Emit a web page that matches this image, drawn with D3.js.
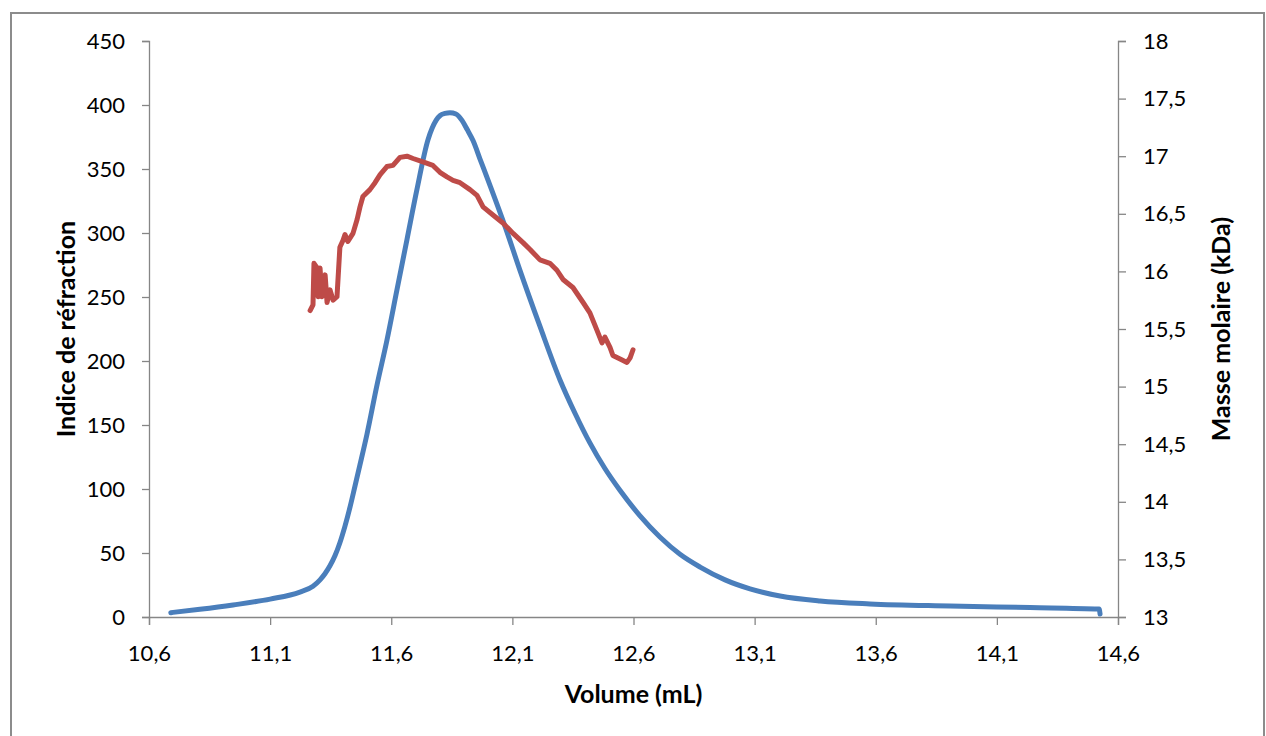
<!DOCTYPE html>
<html><head><meta charset="utf-8">
<script src="https://cdn.jsdelivr.net/npm/d3@7"></script>
<style>body{margin:0;background:#fff}svg{display:block}text{font-family:Lato,"Open Sans",sans-serif;fill:#000}</style>
</head><body><svg id="c" width="1266" height="736"></svg>
<script>
const xTicks=[10.6,11.1,11.6,12.1,12.6,13.1,13.6,14.1,14.6];
const yLeftTicks=[0,50,100,150,200,250,300,350,400,450];
const yRightTicks=[13,13.5,14,14.5,15,15.5,16,16.5,17,17.5,18];
const riVolume=[10.69,10.81,10.947,11.1,11.223,11.277,11.306,11.327,11.347,11.368,11.388,11.409,11.43,11.45,11.471,11.5,11.541,11.582,11.623,11.665,11.706,11.752,11.769,11.785,11.802,11.822,11.8425,11.867,11.892,11.913,11.938,11.966,12.008,12.07,12.131,12.214,12.297,12.359,12.42,12.482,12.544,12.627,12.709,12.792,12.875,12.978,13.081,13.205,13.37,13.576,13.907,14.237,14.522,14.526];
const riValue=[3.4,6,9.4,14,19.5,24,29,34,40,48,58,71,86,102,119,143,181,216,255,295,334,373,382,388,391.8,393.4,394,393,388,381,372,358,337,305,271,227,185,159,136,116,99,79,62.5,49,39,29,22,16.4,12.5,10.2,8.6,7.4,6.2,2.3];
const mmVolume=[11.265,11.277,11.281,11.294,11.298,11.306,11.314,11.327,11.335,11.347,11.36,11.376,11.388,11.401,11.409,11.421,11.442,11.459,11.471,11.483,11.512,11.533,11.554,11.582,11.607,11.636,11.665,11.69,11.731,11.772,11.801,11.83,11.855,11.884,11.925,11.954,11.979,12.02,12.061,12.103,12.144,12.173,12.214,12.255,12.284,12.309,12.35,12.392,12.42,12.449,12.47,12.482,12.503,12.515,12.553,12.573,12.586,12.598];
const mmValue=[15.66,15.71,16.07,16.03,15.78,16.03,15.78,15.97,15.73,15.84,15.75,15.78,16.21,16.27,16.32,16.26,16.33,16.45,16.56,16.65,16.71,16.77,16.84,16.91,16.92,16.99,17.0,16.98,16.95,16.92,16.86,16.82,16.79,16.77,16.71,16.66,16.56,16.49,16.42,16.33,16.25,16.19,16.10,16.07,16.01,15.93,15.86,15.73,15.64,15.49,15.38,15.43,15.34,15.27,15.23,15.21,15.25,15.32];

const svg=d3.select("#c");
const L=149,R=1118,T=41,B=617;
const x=d3.scaleLinear().domain([10.6,14.6]).range([L,R]);
const yL=d3.scaleLinear().domain([0,450]).range([B,T]);
const yR=d3.scaleLinear().domain([13,18]).range([B,T]);
const fmt=d=>String(d).replace(".",",");
const axisCol="#868686";

svg.append("rect").attr("x",11).attr("y",13).attr("width",1253).attr("height",740)
  .attr("fill","none").attr("stroke","#8c8c8c").attr("stroke-width",2);

function style(g){g.select(".domain").attr("stroke",axisCol).attr("stroke-width",1.3);
  g.selectAll(".tick line").attr("stroke",axisCol).attr("stroke-width",1.3);
  g.selectAll(".tick text").style("font-size","22px").style("font-family","Lato");}

const gx=svg.append("g").attr("transform",`translate(0,${B})`)
  .call(d3.axisBottom(x).tickValues(xTicks).tickFormat(fmt).tickSizeOuter(0).tickSize(8).tickPadding(20));
style(gx);
const gl=svg.append("g").attr("transform",`translate(${L},0)`)
  .call(d3.axisLeft(yL).tickValues(yLeftTicks).tickSizeOuter(0).tickSize(7).tickPadding(17));
style(gl);
const gr=svg.append("g").attr("transform",`translate(${R},0)`)
  .call(d3.axisRight(yR).tickValues(yRightTicks).tickFormat(fmt).tickSizeOuter(0).tickSize(8).tickPadding(17));
style(gr);

const ri=riVolume.map((v,i)=>[v,riValue[i]]);
const mm=mmVolume.map((v,i)=>[v,mmValue[i]]);
svg.append("path").datum(ri).attr("fill","none").attr("stroke","#4a7ebb").attr("stroke-width",5)
  .attr("stroke-linecap","round").attr("stroke-linejoin","round")
  .attr("d",d3.line().x(d=>x(d[0])).y(d=>yL(d[1])).curve(d3.curveMonotoneX));
svg.append("path").datum(mm).attr("fill","none").attr("stroke","#be4b48").attr("stroke-width",5)
  .attr("stroke-linecap","round").attr("stroke-linejoin","round")
  .attr("d",d3.line().x(d=>x(d[0])).y(d=>yR(d[1])));

svg.append("text").attr("x",(L+R)/2).attr("y",703).attr("text-anchor","middle")
  .style("font-size","25px").style("font-weight","bold").text("Volume (mL)");
svg.append("text").attr("transform",`translate(75,${(T+B)/2}) rotate(-90)`).attr("text-anchor","middle")
  .style("font-size","25px").style("font-weight","bold").text("Indice de réfraction");
svg.append("text").attr("transform",`translate(1230,${(T+B)/2}) rotate(-90)`).attr("text-anchor","middle")
  .style("font-size","25px").style("font-weight","bold").text("Masse molaire (kDa)");
</script></body></html>
